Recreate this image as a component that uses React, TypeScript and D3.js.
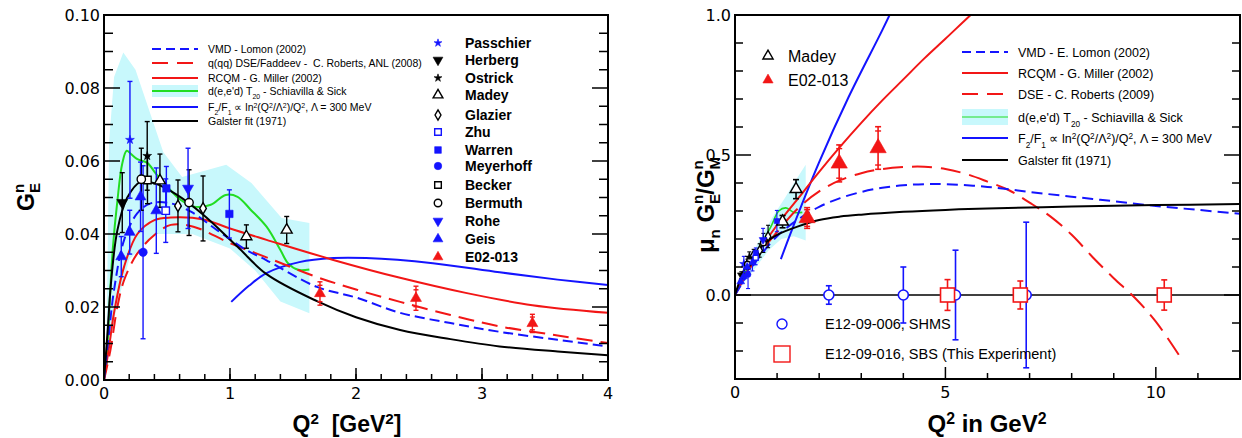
import React, { useEffect, useRef } from "react";
import * as d3 from "d3";

type Pt = [number, number];
type Obs = [number, number, number]; // Q2, value, error

// ---------- left panel: G_E^n vs Q^2, theory curves [Q2, G]
const lomonLeft: Pt[] = [[0, 0], [0.04, 0.013], [0.08, 0.0247], [0.16, 0.0384], [0.265, 0.0457], [0.37, 0.0484], [0.53, 0.0484], [0.69, 0.0461], [0.9, 0.041], [1.11, 0.036], [1.29, 0.0328], [1.69, 0.0255], [2.0, 0.0226], [2.35, 0.0184], [2.75, 0.0156], [3.14, 0.0132], [3.6, 0.011], [4.0, 0.0092]];
const robertsLeft: Pt[] = [[0, 0], [0.05, 0.008], [0.106, 0.02], [0.16, 0.0274], [0.265, 0.0347], [0.4, 0.0397], [0.53, 0.0425], [0.71, 0.042], [1.0, 0.0375], [1.29, 0.0336], [1.69, 0.0282], [2.0, 0.0248], [2.35, 0.0214], [2.75, 0.0178], [3.14, 0.0147], [3.6, 0.0122], [4.0, 0.0101]];
const millerLeft: Pt[] = [[0, 0], [0.04, 0.009], [0.079, 0.0183], [0.159, 0.031], [0.265, 0.04], [0.4, 0.0438], [0.53, 0.0445], [0.79, 0.044], [1.0, 0.0415], [1.29, 0.0384], [1.82, 0.0329], [2.35, 0.028], [2.88, 0.0238], [3.4, 0.0205], [4.0, 0.0184]];
const schiavillaLeft: Pt[] = [[0.02, 0.004], [0.04, 0.018], [0.07, 0.036], [0.106, 0.049], [0.145, 0.0593], [0.18, 0.0628], [0.212, 0.062], [0.265, 0.0605], [0.344, 0.0595], [0.41, 0.0566], [0.5, 0.053], [0.61, 0.0493], [0.714, 0.0475], [0.847, 0.048], [0.966, 0.0507], [1.06, 0.0502], [1.16, 0.0468], [1.29, 0.042], [1.4, 0.0356], [1.46, 0.032], [1.54, 0.0302], [1.63, 0.0303]];
const bandLeftUpper: Pt[] = [[0.02, 0.01], [0.04, 0.065], [0.08, 0.083], [0.153, 0.0897], [0.25, 0.085], [0.47, 0.0625], [0.62, 0.0556], [0.97, 0.059], [1.17, 0.054], [1.41, 0.0444], [1.63, 0.043]];
const bandLeftLower: Pt[] = [[0.02, 0.004], [0.05, 0.01], [0.1, 0.02], [0.2, 0.033], [0.4, 0.04], [0.7, 0.04], [1.0, 0.036], [1.2, 0.03], [1.4, 0.0215], [1.63, 0.0183]];
const ratioLeft: Pt[] = [[1.01, 0.0214], [1.15, 0.0258], [1.29, 0.0293], [1.55, 0.0323], [1.82, 0.0334], [2.08, 0.0334], [2.61, 0.032], [3.14, 0.0295], [3.6, 0.0275], [4.0, 0.026]];
const galsterLeft: Pt[] = [[0, 0], [0.03, 0.014], [0.053, 0.0256], [0.106, 0.041], [0.185, 0.05], [0.29, 0.0543], [0.4, 0.0539], [0.58, 0.0507], [0.79, 0.0452], [1.06, 0.0365], [1.29, 0.029], [1.69, 0.0216], [2.0, 0.0172], [2.35, 0.0137], [2.75, 0.0112], [3.14, 0.0092], [3.6, 0.0078], [4.0, 0.0068]];

// left panel data [Q2, G, err]
const passchierL: Obs[] = [[0.206, 0.0658, 0.016]];
const herbergL: Obs[] = [[0.145, 0.0486, 0.0082]];
const ostrickL: Obs[] = [[0.343, 0.0614, 0.0094]];
const madeyL: Obs[] = [[0.444, 0.0546, 0.0073], [1.13, 0.0393, 0.0032], [1.45, 0.0411, 0.0037]];
const glazierL: Obs[] = [[0.587, 0.0477, 0.0071], [0.786, 0.047, 0.0089]];
const zhuL: Obs[] = [[0.49, 0.0464, 0.0087]];
const warrenL: Obs[] = [[0.495, 0.0525, 0.006], [0.995, 0.0455, 0.0066]];
const meyerhoffL: Obs[] = [[0.31, 0.035, 0.0237]];
const beckerL: Obs[] = [[0.345, 0.0548, 0.0065]];
const bermuthL: Obs[] = [[0.296, 0.055, 0.0085], [0.675, 0.0486, 0.009]];
const roheL: Obs[] = [[0.667, 0.0525, 0.011]];
const geisL: Obs[] = [[0.137, 0.0338, 0.0055], [0.204, 0.0405, 0.006], [0.29, 0.0502, 0.0095], [0.415, 0.0464, 0.0117]];
const e02013L: Obs[] = [[1.714, 0.0237, 0.0032], [2.476, 0.0224, 0.0033], [3.4, 0.0155, 0.0025]];

// ---------- right panel: mu_n G_E^n / G_M^n, curves [Q2, R]
const lomonRight: Pt[] = [[0, 0], [0.5, 0.12], [1.0, 0.21], [1.5, 0.27], [2.0, 0.315], [2.5, 0.346], [3.0, 0.368], [3.5, 0.383], [4.0, 0.392], [4.5, 0.396], [5.0, 0.396], [6.0, 0.386], [7.0, 0.368], [8.0, 0.351], [9.0, 0.335], [10.0, 0.318], [11.0, 0.304], [12.0, 0.29]];
const millerRight: Pt[] = [[0, 0], [0.5, 0.14], [1.0, 0.25], [1.5, 0.345], [2.0, 0.44], [2.5, 0.53], [3.0, 0.615], [3.5, 0.695], [4.0, 0.77], [4.5, 0.845], [5.0, 0.915], [5.6, 1.0], [5.9, 1.04]];
const robertsRight: Pt[] = [[0, 0], [0.5, 0.13], [1.0, 0.225], [1.5, 0.31], [2.0, 0.37], [2.5, 0.41], [3.0, 0.435], [3.5, 0.45], [4.0, 0.457], [4.5, 0.458], [5.0, 0.45], [5.5, 0.432], [6.0, 0.405], [6.5, 0.375], [7.0, 0.33], [7.5, 0.28], [8.0, 0.215], [8.5, 0.135], [9.0, 0.06], [9.5, -0.01], [10.0, -0.095], [10.6, -0.226]];
const schiavillaRight: Pt[] = [[0, 0], [0.2, 0.07], [0.4, 0.12], [0.6, 0.175], [0.85, 0.243], [1.04, 0.3], [1.21, 0.311], [1.4, 0.295], [1.6, 0.295]];
const bandRightUpper: Pt[] = [[0, 0], [0.3, 0.12], [0.6, 0.2], [0.9, 0.28], [1.2, 0.35], [1.4, 0.4], [1.68, 0.465]];
const bandRightLower: Pt[] = [[0, 0], [0.2, 0.04], [0.5, 0.1], [0.8, 0.16], [1.1, 0.2], [1.4, 0.21], [1.68, 0.195]];
const ratioRight: Pt[] = [[1.09, 0.128], [1.35, 0.232], [1.99, 0.471], [2.7, 0.707], [3.5, 0.946], [3.8, 1.04]];
const galsterRight: Pt[] = [[0, 0], [0.25, 0.1], [0.5, 0.15], [0.75, 0.19], [1.0, 0.215], [1.5, 0.245], [2.0, 0.268], [2.5, 0.28], [3.0, 0.287], [4.0, 0.297], [5.0, 0.304], [6.0, 0.309], [8.0, 0.316], [10.0, 0.321], [12.0, 0.325]];

// right panel data [Q2, R, err]
const passchierR: Obs[] = [[0.21, 0.111, 0.027]];
const herbergR: Obs[] = [[0.15, 0.071, 0.012]];
const ostrickR: Obs[] = [[0.34, 0.134, 0.02]];
const madeyR: Obs[] = [[0.444, 0.144, 0.019], [1.13, 0.262, 0.022], [1.45, 0.378, 0.034]];
const glazierR: Obs[] = [[0.587, 0.159, 0.024], [0.786, 0.209, 0.04]];
const zhuR: Obs[] = [[0.49, 0.133, 0.025]];
const warrenR: Obs[] = [[0.495, 0.151, 0.017], [0.995, 0.264, 0.038]];
const meyerhoffR: Obs[] = [[0.31, 0.073, 0.05]];
const beckerR: Obs[] = [[0.345, 0.12, 0.014]];
const bermuthR: Obs[] = [[0.296, 0.11, 0.018], [0.675, 0.186, 0.034]];
const roheR: Obs[] = [[0.667, 0.197, 0.041]];
const geisR: Obs[] = [[0.137, 0.048, 0.008], [0.204, 0.066, 0.01], [0.29, 0.1, 0.019], [0.415, 0.116, 0.03]];
const e02013R: Obs[] = [[1.714, 0.275, 0.037], [2.476, 0.47, 0.066], [3.4, 0.525, 0.076]];

// projected points, all at zero
const shmsQ2 = [2.23, 4.0, 5.24, 6.92];
const shmsErr = [0.033, 0.1, 0.16, 0.26];
const sbsQ2 = [5.05, 6.78, 10.2];
const sbsErr = [0.055, 0.05, 0.054];

// ticks
const leftXTicks = [0, 1, 2, 3, 4];
const leftYTicks = [0, 0.02, 0.04, 0.06, 0.08, 0.1];
const rightXTicks = [0, 5, 10];
const rightYTicks = [0, 0.5, 1.0];

type Part = [string, string];
const lambdaLabel: Part[] = [["F", ""], ["2", "sub"], ["/F", ""], ["1", "sub"], [" \u221d ln", ""], ["2", "sup"], ["(Q", ""], ["2", "sup"], ["/\u039b", ""], ["2", "sup"], [")/Q", ""], ["2", "sup"], [", \u039b = 300 MeV", ""]];
const t20Label: Part[] = [["d(e,e'd) T", ""], ["20", "sub"], [" - Schiavilla & Sick", ""]];
const leftLegend: { key: string; parts: Part[] }[] = [
  { key: "vmd", parts: [["VMD - Lomon (2002)", ""]] },
  { key: "dse", parts: [["q(qq) DSE/Faddeev -\u00a0 C. Roberts, ANL (2008)", ""]] },
  { key: "rcqm", parts: [["RCQM - G. Miller (2002)", ""]] },
  { key: "band", parts: t20Label },
  { key: "ratio", parts: lambdaLabel },
  { key: "galster", parts: [["Galster fit (1971)", ""]] },
];
const rightLegend: { key: string; parts: Part[] }[] = [
  { key: "vmd", parts: [["VMD - E. Lomon (2002)", ""]] },
  { key: "rcqm", parts: [["RCQM - G. Miller (2002)", ""]] },
  { key: "dse", parts: [["DSE - C. Roberts (2009)", ""]] },
  { key: "band", parts: t20Label },
  { key: "ratio", parts: lambdaLabel },
  { key: "galster", parts: [["Galster fit (1971)", ""]] },
];

const blue = "#1414ff";
const red = "#f21616";
const green = "#22dd22";
const black = "#000000";
const cyan = "#c8f8fc";

const markerSeries = [
  { name: "Passchier", shape: "star", color: blue, filled: true, left: passchierL, right: passchierR },
  { name: "Herberg", shape: "dtri", color: black, filled: true, left: herbergL, right: herbergR },
  { name: "Ostrick", shape: "star", color: black, filled: true, left: ostrickL, right: ostrickR },
  { name: "Madey", shape: "tri", color: black, filled: false, left: madeyL, right: madeyR },
  { name: "Glazier", shape: "diamond", color: black, filled: false, left: glazierL, right: glazierR },
  { name: "Zhu", shape: "square", color: blue, filled: false, left: zhuL, right: zhuR },
  { name: "Warren", shape: "square", color: blue, filled: true, left: warrenL, right: warrenR },
  { name: "Meyerhoff", shape: "circle", color: blue, filled: true, left: meyerhoffL, right: meyerhoffR },
  { name: "Becker", shape: "square", color: black, filled: false, left: beckerL, right: beckerR },
  { name: "Bermuth", shape: "circle", color: black, filled: false, left: bermuthL, right: bermuthR },
  { name: "Rohe", shape: "dtri", color: blue, filled: true, left: roheL, right: roheR },
  { name: "Geis", shape: "tri", color: blue, filled: true, left: geisL, right: geisR },
  { name: "E02-013", shape: "tri", color: red, filled: true, left: e02013L, right: e02013R },
];

const shapes: Record<string, d3.SymbolType> = {
  star: d3.symbolStar,
  tri: d3.symbolTriangle,
  dtri: d3.symbolTriangle,
  diamond: d3.symbolDiamond,
  square: d3.symbolSquare,
  circle: d3.symbolCircle,
};
const baseSize: Record<string, number> = { star: 24, tri: 52, dtri: 52, diamond: 38, square: 55, circle: 55 };

function App() {
  const chart = useRef<SVGSVGElement | null>(null);

  useEffect(() => {
    const svg = d3.select(chart.current);
    const sans = "'Liberation Sans', Arial, Helvetica, sans-serif";
    const tickFont = "'DejaVu Sans', sans-serif";

    const xL = d3.scaleLinear().domain([0, 4]).range([104, 608]);
    const yL = d3.scaleLinear().domain([0, 0.1]).range([380, 15]);
    const xR = d3.scaleLinear().domain([0, 12]).range([735, 1240]);
    const yR = d3.scaleLinear().domain([-0.3, 1.0]).range([379, 15]);

    const defs = svg.append("defs");
    defs.append("clipPath").attr("id", "clipL").append("rect")
      .attr("x", 104).attr("y", 15).attr("width", 504).attr("height", 365);
    defs.append("clipPath").attr("id", "clipR").append("rect")
      .attr("x", 735).attr("y", 15).attr("width", 505).attr("height", 364);

    const rich = (t: any, parts: Part[]) => {
      parts.forEach(([s, m]) => {
        const ts = t.append("tspan").text(s);
        if (m) ts.attr("baseline-shift", m === "sup" ? "super" : "sub").attr("font-size", "66%");
      });
    };

    const drawCurve = (g: any, x: any, y: any, pts: Pt[], color: string, dash: string | null, w = 2) => {
      const line = d3.line<Pt>().x(d => x(d[0])).y(d => y(d[1])).curve(d3.curveCatmullRom.alpha(0.5));
      g.append("path").attr("d", line(pts)).attr("fill", "none")
        .attr("stroke", color).attr("stroke-width", w).attr("stroke-dasharray", dash);
    };

    const drawBand = (g: any, x: any, y: any, up: Pt[], lo: Pt[]) => {
      const line = d3.line<Pt>().x(d => x(d[0])).y(d => y(d[1]));
      g.append("path").attr("d", line([...up, ...lo.slice().reverse()]) + "Z").attr("fill", cyan);
    };

    const marker = (g: any, cx: number, cy: number, shape: string, color: string, filled: boolean, size: number) => {
      g.append("path")
        .attr("d", d3.symbol().type(shapes[shape]).size(size)())
        .attr("transform", `translate(${cx},${cy})${shape === "dtri" ? " rotate(180)" : ""}`)
        .attr("fill", filled ? color : "#fff")
        .attr("stroke", color)
        .attr("stroke-width", filled ? 0.6 : 1.4);
    };

    const errBar = (g: any, cx: number, yTop: number, yBot: number, color: string, cap: number, w = 1.4) => {
      g.append("line").attr("x1", cx).attr("x2", cx).attr("y1", yTop).attr("y2", yBot)
        .attr("stroke", color).attr("stroke-width", w);
      [yTop, yBot].forEach(v => g.append("line").attr("x1", cx - cap).attr("x2", cx + cap)
        .attr("y1", v).attr("y2", v).attr("stroke", color).attr("stroke-width", w));
    };

    const axes = (x: any, y: any, xt: number[], xMinor: number[], yt: number[], yMinor: number[],
      xf: (v: number) => string, yf: (v: number) => string, yMaj: number, yMin: number) => {
      const g = svg.append("g");
      const [x0, x1] = x.range();
      const [y0, y1] = y.range();
      const tick = (a: number, b: number, c: number, d: number) =>
        g.append("line").attr("x1", a).attr("y1", b).attr("x2", c).attr("y2", d)
          .attr("stroke", black).attr("stroke-width", 1.5);
      xMinor.forEach(v => tick(x(v), y0, x(v), y0 - 6));
      xt.forEach(v => {
        tick(x(v), y0, x(v), y0 - 12);
        g.append("text").attr("x", x(v)).attr("y", y0 + 19).attr("text-anchor", "middle")
          .attr("font-family", tickFont).attr("font-size", 16).text(xf(v));
      });
      yMinor.forEach(v => { tick(x0, y(v), x0 + yMin, y(v)); tick(x1, y(v), x1 - yMin, y(v)); });
      yt.forEach(v => {
        tick(x0, y(v), x0 + yMaj, y(v)); tick(x1, y(v), x1 - yMaj, y(v));
        g.append("text").attr("x", x0 - 4).attr("y", y(v) + 6).attr("text-anchor", "end")
          .attr("font-family", tickFont).attr("font-size", 16).text(yf(v));
      });
      g.append("rect").attr("x", x0).attr("y", y1).attr("width", x1 - x0).attr("height", y0 - y1)
        .attr("fill", "none").attr("stroke", black).attr("stroke-width", 2);
    };

    const styleLine = (g: any, key: string, x1: number, x2: number, yy: number, thinGreen: boolean) => {
      const seg = (color: string, dash: string | null, w = 2) =>
        g.append("line").attr("x1", x1).attr("x2", x2).attr("y1", yy).attr("y2", yy)
          .attr("stroke", color).attr("stroke-width", w).attr("stroke-dasharray", dash);
      if (key === "vmd") seg(blue, "9,5");
      if (key === "dse") seg(red, "16,9");
      if (key === "rcqm") seg(red, null);
      if (key === "ratio") seg(blue, null);
      if (key === "galster") seg(black, null);
      if (key === "band") {
        g.append("rect").attr("x", x1).attr("y", yy - (thinGreen ? 8 : 6)).attr("width", x2 - x1)
          .attr("height", thinGreen ? 16 : 12).attr("fill", cyan);
        seg(green, null, thinGreen ? 1.2 : 2);
      }
    };

    // ================= LEFT PANEL =================
    const pl = svg.append("g").attr("clip-path", "url(#clipL)");
    drawBand(pl, xL, yL, bandLeftUpper, bandLeftLower);
    drawCurve(pl, xL, yL, schiavillaLeft, green, null);
    drawCurve(pl, xL, yL, ratioLeft, blue, null);
    drawCurve(pl, xL, yL, millerLeft, red, null);
    drawCurve(pl, xL, yL, robertsLeft, red, "16,8");
    drawCurve(pl, xL, yL, lomonLeft, blue, "10,5");
    drawCurve(pl, xL, yL, galsterLeft, black, null);

    markerSeries.forEach(s => {
      s.left.forEach(([q, v, e]) => {
        errBar(pl, xL(q), yL(v + e), yL(v - e), s.color, 2.5);
        if (s.name === "E02-013") {
          [v + e * 0.7, v - e * 0.7].forEach(w => pl.append("line").attr("x1", xL(q) - 2.5).attr("x2", xL(q) + 2.5)
            .attr("y1", yL(w)).attr("y2", yL(w)).attr("stroke", red).attr("stroke-width", 1.4));
        }
      });
    });
    markerSeries.forEach(s => {
      s.left.forEach(([q, v]) => marker(pl, xL(q), yL(v), s.shape, s.color, s.filled, baseSize[s.shape]));
    });

    axes(xL, yL, leftXTicks, d3.range(0.2, 4, 0.2), leftYTicks, d3.range(0.005, 0.1, 0.005).filter(v => Math.abs(v / 0.02 - Math.round(v / 0.02)) > 0.01),
      d3.format("d"), d3.format(".2f"), 16, 9);

    // left legend (lines)
    const lg = svg.append("g");
    const rowsL = [49, 63, 78, 91, 107, 121];
    leftLegend.forEach((item, i) => {
      styleLine(lg, item.key, 152, 198, rowsL[i], false);
      const t = lg.append("text").attr("x", 208).attr("y", rowsL[i] + 4)
        .attr("font-family", sans).attr("font-size", 10.5);
      rich(t, item.parts);
    });
    // left legend (markers)
    const rowsM = [43, 60, 78, 95, 115, 132, 150, 166, 185, 203, 221, 239, 257];
    markerSeries.forEach((s, i) => {
      marker(lg, 438, rowsM[i], s.shape, s.color, s.filled, baseSize[s.shape] * 0.8);
      lg.append("text").attr("x", 465).attr("y", rowsM[i] + 5).attr("font-family", sans)
        .attr("font-size", 14).attr("font-weight", "bold").text(s.name);
    });

    // left titles
    const tx = svg.append("text").attr("x", 347).attr("y", 432).attr("text-anchor", "middle")
      .attr("font-family", sans).attr("font-size", 23).attr("font-weight", "bold");
    rich(tx, [["Q", ""], ["2", "sup"], ["\u00a0\u00a0[GeV", ""], ["2", "sup"], ["]", ""]]);
    const ty = svg.append("text").attr("transform", "translate(34,197) rotate(-90)").attr("text-anchor", "middle")
      .attr("font-family", sans).attr("font-size", 23).attr("font-weight", "bold");
    ty.append("tspan").text("G");
    ty.append("tspan").attr("font-size", 15).attr("dy", 6).text("E");
    ty.append("tspan").attr("font-size", 15).attr("dx", -10).attr("dy", -16).text("n");

    // ================= RIGHT PANEL =================
    const pr = svg.append("g").attr("clip-path", "url(#clipR)");
    drawBand(pr, xR, yR, bandRightUpper, bandRightLower);
    pr.append("line").attr("x1", xR(0)).attr("x2", xR(12)).attr("y1", yR(0)).attr("y2", yR(0))
      .attr("stroke", black).attr("stroke-width", 1.5);
    drawCurve(pr, xR, yR, schiavillaRight, green, null, 1.6);
    drawCurve(pr, xR, yR, ratioRight, blue, null);
    drawCurve(pr, xR, yR, millerRight, red, null);
    drawCurve(pr, xR, yR, robertsRight, red, "20,9");
    drawCurve(pr, xR, yR, lomonRight, blue, "11,6");
    drawCurve(pr, xR, yR, galsterRight, black, null);

    const rightSize = (name: string, q: number) => name === "E02-013" ? 115 : q > 1 ? 60 : 26;
    markerSeries.forEach(s => {
      s.right.forEach(([q, v, e]) => {
        errBar(pr, xR(q), yR(v + e), yR(v - e), s.color, q > 1 ? 3 : 2, q > 1 ? 1.6 : 1.1);
        if (s.name === "E02-013") {
          [v + e * 0.8, v - e * 0.8].forEach(w => pr.append("line").attr("x1", xR(q) - 3).attr("x2", xR(q) + 3)
            .attr("y1", yR(w)).attr("y2", yR(w)).attr("stroke", red).attr("stroke-width", 1.4));
        }
      });
    });
    markerSeries.forEach(s => {
      s.right.forEach(([q, v]) => marker(pr, xR(q), yR(v), s.shape, s.color, s.filled,
        s.shape === "star" ? 22 : rightSize(s.name, q)));
    });

    shmsQ2.forEach((q, i) => {
      errBar(pr, xR(q), yR(shmsErr[i]), yR(-shmsErr[i]), blue, 3, 1.6);
      pr.append("circle").attr("cx", xR(q)).attr("cy", yR(0)).attr("r", 5)
        .attr("fill", "#fff").attr("stroke", blue).attr("stroke-width", 1.6);
    });
    sbsQ2.forEach((q, i) => {
      errBar(pr, xR(q), yR(sbsErr[i]), yR(-sbsErr[i]), red, 3, 1.6);
      pr.append("rect").attr("x", xR(q) - 7).attr("y", yR(0) - 7).attr("width", 14).attr("height", 14)
        .attr("fill", "#fff").attr("stroke", red).attr("stroke-width", 1.6);
    });

    axes(xR, yR, rightXTicks, d3.range(1, 12, 1).filter(v => v % 5 !== 0), rightYTicks,
      d3.range(-0.3, 1.0, 0.1).map(v => Math.round(v * 10) / 10).filter(v => v % 0.5 !== 0),
      d3.format("d"), d3.format(".1f"), 16, 8);

    // right legends
    const rg = svg.append("g");
    const rowsR = [52, 73, 94, 117, 138, 160];
    rightLegend.forEach((item, i) => {
      styleLine(rg, item.key, 962, 1008, rowsR[i], true);
      const t = rg.append("text").attr("x", 1018).attr("y", rowsR[i] + 4.5)
        .attr("font-family", sans).attr("font-size", 12.5);
      rich(t, item.parts);
    });
    marker(rg, 768, 56, "tri", black, false, 45);
    rg.append("text").attr("x", 788).attr("y", 62).attr("font-family", sans).attr("font-size", 16).text("Madey");
    marker(rg, 768, 80, "tri", red, true, 45);
    rg.append("text").attr("x", 788).attr("y", 86).attr("font-family", sans).attr("font-size", 16).text("E02-013");

    rg.append("circle").attr("cx", 782).attr("cy", 324).attr("r", 5).attr("fill", "#fff")
      .attr("stroke", blue).attr("stroke-width", 1.4);
    rg.append("text").attr("x", 825).attr("y", 329).attr("font-family", sans).attr("font-size", 14.5)
      .text("E12-09-006, SHMS");
    rg.append("rect").attr("x", 774).attr("y", 346).attr("width", 16).attr("height", 16).attr("fill", "#fff")
      .attr("stroke", red).attr("stroke-width", 1.4);
    rg.append("text").attr("x", 825).attr("y", 359).attr("font-family", sans).attr("font-size", 14.5)
      .text("E12-09-016, SBS (This Experiment)");

    // right titles
    const rx = svg.append("text").attr("x", 987).attr("y", 432).attr("text-anchor", "middle")
      .attr("font-family", sans).attr("font-size", 24).attr("font-weight", "bold");
    rich(rx, [["Q", ""], ["2", "sup"], [" in GeV", ""], ["2", "sup"]]);
    const ry = svg.append("text").attr("transform", "translate(714,205) rotate(-90)").attr("text-anchor", "middle")
      .attr("font-family", sans).attr("font-size", 24).attr("font-weight", "bold");
    ry.append("tspan").text("\u03bc");
    ry.append("tspan").attr("font-size", 15).attr("dy", 6).text("n");
    ry.append("tspan").attr("dy", -6).text("\u00a0G");
    ry.append("tspan").attr("font-size", 15).attr("dy", 6).text("E");
    ry.append("tspan").attr("font-size", 15).attr("dx", -10).attr("dy", -17).text("n");
    ry.append("tspan").attr("dy", 11).text("/G");
    ry.append("tspan").attr("font-size", 15).attr("dy", 6).text("M");
    ry.append("tspan").attr("font-size", 15).attr("dx", -12.5).attr("dy", -17).text("n");

    return () => {
      svg.selectAll("*").remove();
    };
  }, []);

  return (
    <div style={{ position: "absolute", left: 0, top: 0 }}>
      <svg ref={chart} width={1242} height={438} style={{ display: "block", background: "#fff" }}></svg>
    </div>
  );
}

export default App;
